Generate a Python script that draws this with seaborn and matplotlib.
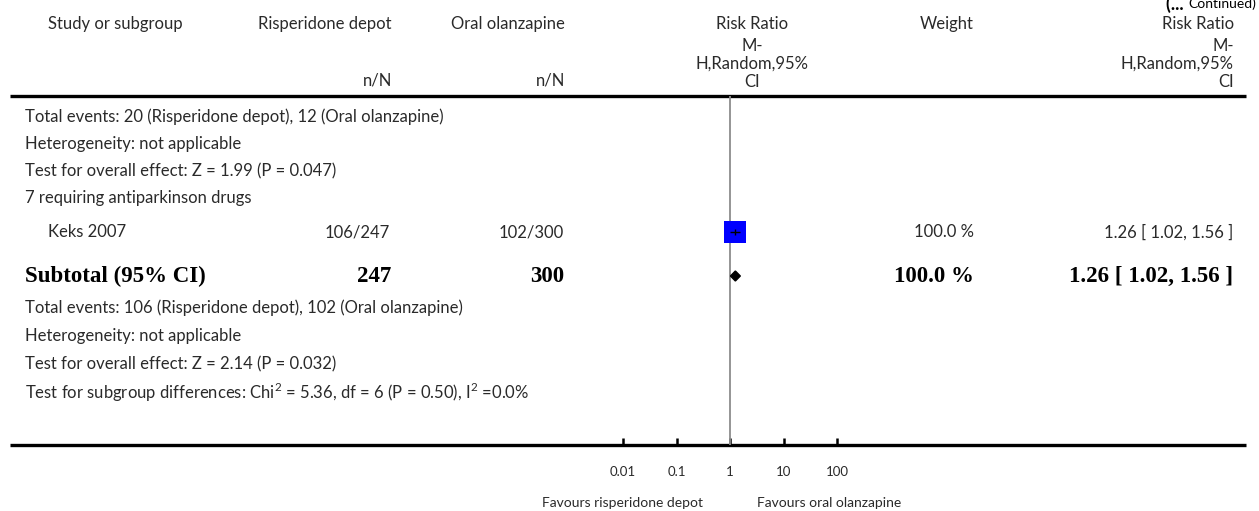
import numpy as np
import pandas as pd
import matplotlib
matplotlib.use("Agg")
import matplotlib.pyplot as plt
import seaborn as sns

# data
studies = ["Keks 2007"]
risp_events = [106]
risp_total = [247]
olan_events = [102]
olan_total = [300]
study_rr = [1.26]
study_lo = [1.02]
study_hi = [1.56]
study_weight = [100.0]

sub_risp_n = 247
sub_olan_n = 300
sub_rr, sub_lo, sub_hi = 1.26, 1.02, 1.56
sub_weight = 100.0

prev_notes = ["Total events: 20 (Risperidone depot), 12 (Oral olanzapine)",
              "Heterogeneity: not applicable",
              "Test for overall effect: Z = 1.99 (P = 0.047)"]
subgroup_title = "7 requiring antiparkinson drugs"
sub_notes = ["Total events: 106 (Risperidone depot), 102 (Oral olanzapine)",
             "Heterogeneity: not applicable",
             "Test for overall effect: Z = 2.14 (P = 0.032)",
             "Test for subgroup differences: Chi$^{2}$ = 5.36, df = 6 (P = 0.50), I$^{2}$ =0.0%"]

tick_vals = [0.01, 0.1, 1, 10, 100]
tick_labels = ["0.01", "0.1", "1", "10", "100"]
left_label = "Favours risperidone depot"
right_label = "Favours oral olanzapine"

W, H = 1259, 511
sns.set_theme(style="white")
plt.rcParams['font.family'] = ['Lato', 'DejaVu Sans']
plt.rcParams['mathtext.fontset'] = 'custom'
plt.rcParams['mathtext.rm'] = 'Lato'
TXT = '#2a2a2a'
FS = 12

fig = plt.figure(figsize=(W / 100, H / 100), dpi=100)
bg = fig.add_axes([0, 0, 1, 1])
bg.set_xlim(0, W)
bg.set_ylim(H, 0)
bg.axis('off')

# row layout (pixels)
top_y, bot_y = 96, 445
prev_rows = [117, 144, 171]
title_row = 198
study_rows = [232]
sub_row = 276
note_rows = [308, 336, 364, 392]

# column layout (pixels)
x_text, x_study = 25, 48
x_risp, x_olan = 392, 565
x_plot_head = 752
x_weight, x_rr = 974, 1234

# header
hy = 24
bg.text(x_study, hy, "Study or subgroup", fontsize=FS, color=TXT, va='center')
bg.text(x_risp, hy, "Risperidone depot", fontsize=FS, color=TXT, va='center', ha='right')
bg.text(x_olan, hy, "Oral olanzapine", fontsize=FS, color=TXT, va='center', ha='right')
bg.text(x_risp, 81, "n/N", fontsize=FS, color=TXT, va='center', ha='right')
bg.text(x_olan, 81, "n/N", fontsize=FS, color=TXT, va='center', ha='right')
bg.text(x_plot_head, hy, "Risk Ratio", fontsize=FS, color=TXT, va='center', ha='center')
bg.text(x_plot_head, 90, "M-\nH,Random,95%\nCI", fontsize=FS, color=TXT,
        va='bottom', ha='center', multialignment='center', linespacing=1.15)
bg.text(x_weight, hy, "Weight", fontsize=FS, color=TXT, va='center', ha='right')
bg.text(x_rr, hy, "Risk Ratio", fontsize=FS, color=TXT, va='center', ha='right')
bg.text(x_rr, 90, "M-\nH,Random,95%\nCI", fontsize=FS, color=TXT,
        va='bottom', ha='right', multialignment='right', linespacing=1.15)
cont = bg.text(1256, 4, "Continued)", fontsize=10, color='black', va='center', ha='right')
bg.annotate("(... ", xy=(0, 0.5), xycoords=cont, ha='right', va='center',
            fontsize=13, fontweight='bold', color='black')

bg.plot([10, 1246], [top_y, top_y], color='black', lw=2.4, solid_capstyle='butt')
bg.plot([10, 1246], [bot_y, bot_y], color='black', lw=2.4, solid_capstyle='butt')

for y, t in zip(prev_rows, prev_notes):
    bg.text(x_text, y, t, fontsize=FS, color=TXT, va='center')
bg.text(x_text, title_row, subgroup_title, fontsize=FS, color=TXT, va='center')

for i, y in enumerate(study_rows):
    bg.text(x_study, y, studies[i], fontsize=FS, color=TXT, va='center')
    bg.text(x_risp - 2, y, f"{risp_events[i]}/{risp_total[i]}", fontsize=FS, color=TXT, va='center', ha='right')
    bg.text(x_olan - 1, y, f"{olan_events[i]}/{olan_total[i]}", fontsize=FS, color=TXT, va='center', ha='right')
    bg.text(x_weight, y, f"{study_weight[i]:.1f} %", fontsize=FS, color=TXT, va='center', ha='right')
    bg.text(x_rr - 1, y, f"{study_rr[i]:.2f} [ {study_lo[i]:.2f}, {study_hi[i]:.2f} ]",
            fontsize=FS, color=TXT, va='center', ha='right')

bold = dict(fontsize=16.5, fontweight='bold', family='Liberation Serif', color='black', va='center')
bg.text(x_text, sub_row, "Subtotal (95% CI)", **bold)
bg.text(x_risp - 1, sub_row, f"{sub_risp_n}", ha='right', **bold)
bg.text(x_olan - 1, sub_row, f"{sub_olan_n}", ha='right', **bold)
bg.text(x_weight, sub_row, f"{sub_weight:.1f} %", ha='right', **bold)
bg.text(x_rr - 1, sub_row, f"{sub_rr:.2f} [ {sub_lo:.2f}, {sub_hi:.2f} ]", ha='right', **bold)

for y, t in zip(note_rows, sub_notes):
    bg.text(x_text, y, t, fontsize=FS, color=TXT, va='center')

# forest axis
x0, x1 = 623, 837
ax = fig.add_axes([x0 / W, 1 - bot_y / H, (x1 - x0) / W, (bot_y - top_y) / H])
ax.patch.set_alpha(0)
ax.set_xscale('log')
ax.set_xlim(0.01, 100)
ax.set_ylim(bot_y, top_y)
for s in ax.spines.values():
    s.set_visible(False)
ax.axvline(1, color='#8c8c8c', lw=1.3, zorder=1)

df = pd.DataFrame({'rr': study_rr, 'y': study_rows})
sns.scatterplot(data=df, x='rr', y='y', marker='s', s=250, color='#0000ff',
                edgecolor='none', ax=ax, zorder=3, legend=False)
ax.hlines(study_rows, study_lo, study_hi, color='black', lw=1, zorder=4)
ax.plot(study_rr, study_rows, marker='|', ms=4, color='black', ls='none', zorder=4)

ax.fill([sub_lo, sub_rr, sub_hi, sub_rr], [sub_row, sub_row - 5, sub_row, sub_row + 5],
        color='black', zorder=3)

ax.set_xticks(tick_vals)
ax.set_xticklabels(tick_labels, fontsize=9.5, color=TXT)
ax.minorticks_off()
ax.tick_params(axis='x', direction='in', length=5, width=1.8, color='black', pad=15, bottom=True)
ax.set_yticks([])
ax.set_xlabel('')
ax.set_ylabel('')

bg.text(703, 503, left_label, fontsize=10, color=TXT, va='center', ha='right')
bg.text(757, 503, right_label, fontsize=10, color=TXT, va='center', ha='left')

fig.savefig("out.png", dpi=100)
